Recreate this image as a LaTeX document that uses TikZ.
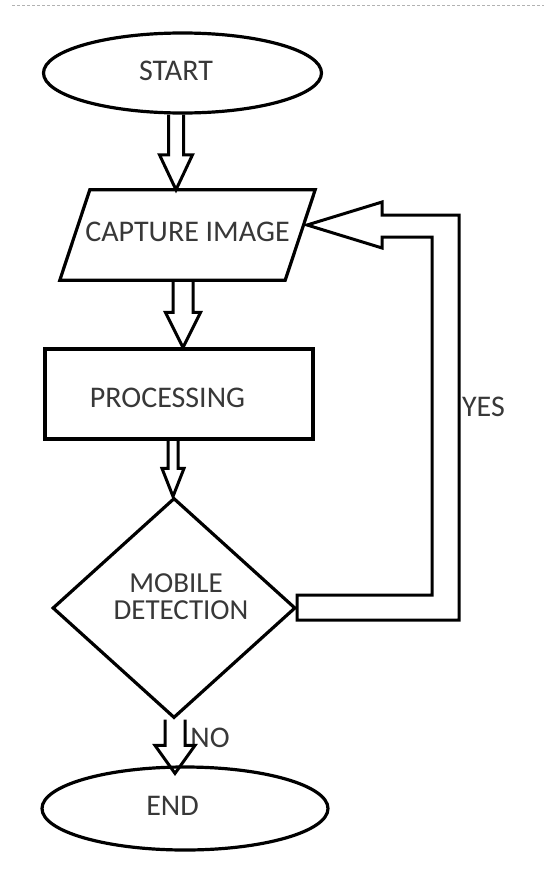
\documentclass[tikz,border=0pt]{standalone}
\usepackage{fontspec}
\setmainfont{Carlito}
\usetikzlibrary{shapes.geometric,calc}
\definecolor{txt}{HTML}{383838}
\tikzset{
  shapeline/.style={draw=black, line width=3.2pt, inner sep=0pt},
  lbl/.style={text=txt, font=\fontsize{30}{30}\selectfont, inner sep=0pt,
              text height=19pt, text depth=0pt},
  blockline/.style={draw=black, line width=3pt},
  sepline/.style={draw=gray!60, line width=0.8pt, dash pattern=on 3pt off 2pt},
}
% vertical hollow block arrow: from, to, shaft half width, head half width, head length
\newcommand{\vblock}[5]{%
  \draw[blockline] let \p1=(#1), \p2=(#2) in
    (\x1-#3pt,\y1) -- (\x1-#3pt,\y2+#5pt) -- (\x1-#4pt,\y2+#5pt) -- (\x1,\y2)
    -- (\x1+#4pt,\y2+#5pt) -- (\x1+#3pt,\y2+#5pt) -- (\x1+#3pt,\y1);}
\begin{document}
\begin{tikzpicture}[x=1pt,y=-1pt]
\useasboundingbox[fill=white] (0,0) rectangle (544,878);
\coordinate (sepA) at (12,5);
\coordinate (sepB) at (544,5);
\draw[sepline] (sepA) -- (sepB);

% shapes
\node[shapeline, ellipse, minimum width=278, minimum height=80] (start) at (182.5,73) {};
\node[inner sep=0pt, minimum width=255, minimum height=90] (capture) at (187.5,235) {};
\draw[shapeline] ($(capture.north west)+(30,0)$) -- (capture.north east)
  -- ($(capture.south east)+(-30,0)$) -- (capture.south west) -- cycle;
\node[shapeline, rectangle, minimum width=268, minimum height=90] (proc) at (179,394) {};
\node[shapeline, diamond, minimum width=243, minimum height=220] (dec) at (174,608) {};
\node[shapeline, ellipse, minimum width=286, minimum height=83] (end) at (185,808.5) {};

% texts
\node[lbl] (tstart) at (176,71) {START};
\node[lbl] (tcapture) at (187.5,232) {CAPTURE IMAGE};
\node[lbl] (tproc) at (167.5,398) {PROCESSING};
\node[lbl, font=\fontsize{29}{29}\selectfont] (tdec1) at (176,583) {MOBILE};
\node[lbl, font=\fontsize{29}{29}\selectfont] (tdec2) at (181,610) {DETECTION};
\node[lbl] (tend) at (172.5,806) {END};
\node[lbl] (tyes) at (483.5,407) {YES};
\node[lbl] (tno) at (210,738) {NO};

% block arrows
\vblock{$(start.south)+(-6.5,0)$}{capture.north}{7.5}{16.5}{35}
\vblock{$(capture.south)+(-4.5,0)$}{proc.north}{10}{17.5}{35}
\vblock{$(proc.south)+(-6,0)$}{dec.north}{5}{11}{28}
\vblock{$(dec.south)+(1,0)$}{$(end.north)+(0,8)$}{10}{20}{28}

% loop back arrow (YES)
\draw[blockline] ([yshift=13pt]dec.east) -- ++(135,0) -- ++(0,-358) -- ++(-50,0)
  -- ++(0,11) -- ++(-75,-23) -- ++(75,-23) -- ++(0,13) -- ++(77,0) -- ++(0,405)
  -- ([yshift=-12pt]dec.east) -- cycle;
\end{tikzpicture}
\end{document}
